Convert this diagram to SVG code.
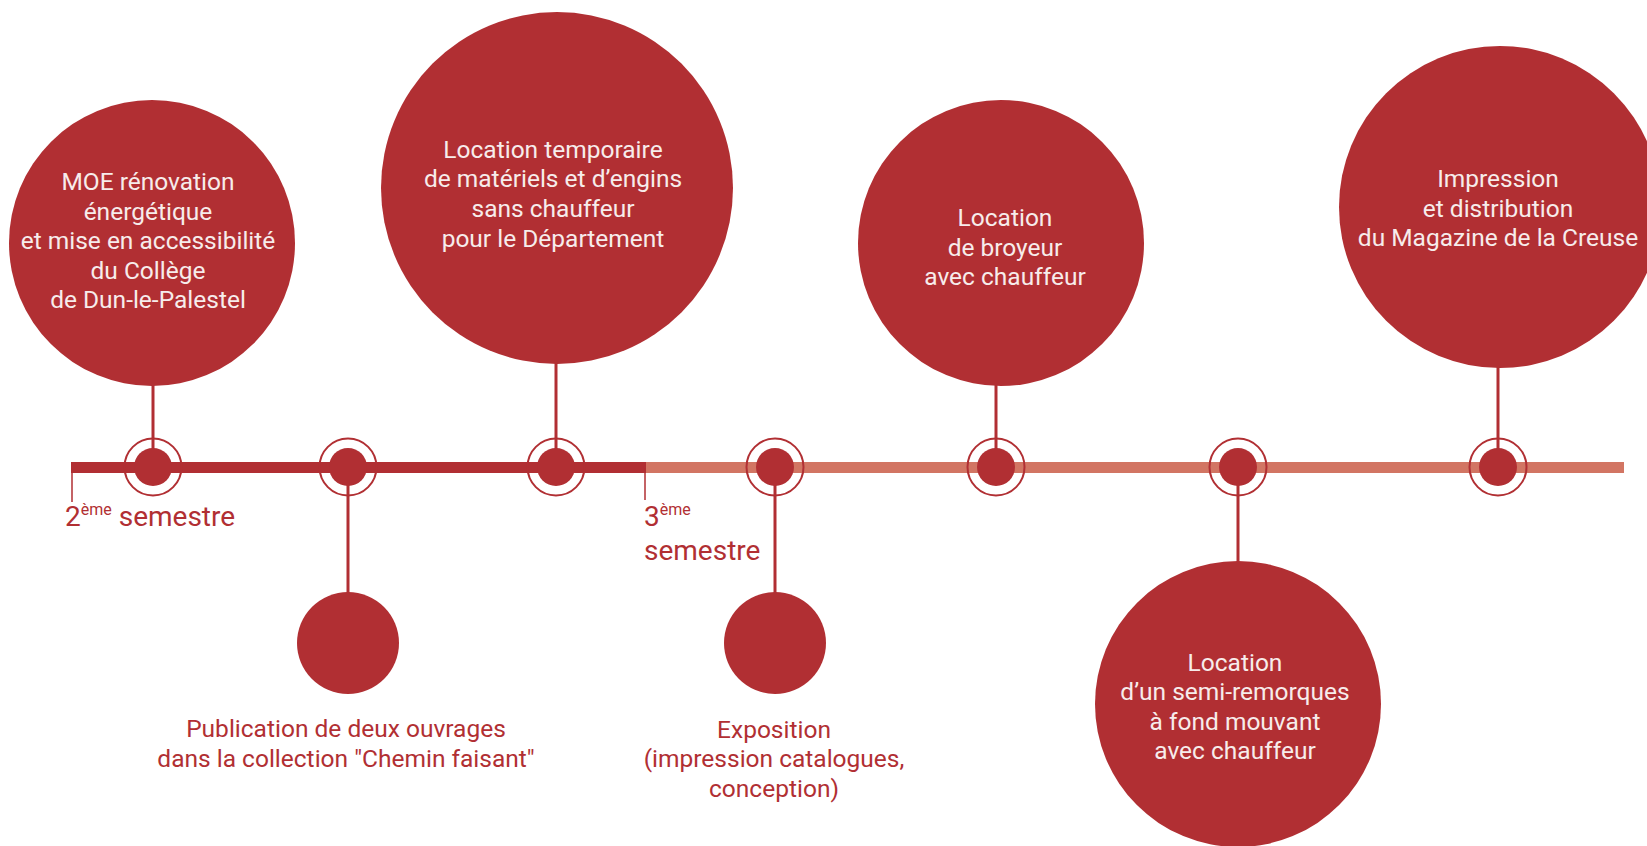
<svg xmlns="http://www.w3.org/2000/svg" width="1647" height="846" viewBox="0 0 1647 846">
<defs>
<style>
.blob{fill:#B12F33}
.in{font-family:Roboto,"Liberation Sans",sans-serif;font-size:24.5px;fill:#F7ECEB;text-anchor:middle}
.lab{font-family:Roboto,"Liberation Sans",sans-serif;font-size:24.5px;fill:#B12F33;text-anchor:middle}
.sem{font-family:Roboto,"Liberation Sans",sans-serif;font-size:28px;fill:#B12F33}
.sup{font-size:16px}
.conn{stroke:#B12F33;stroke-width:3;fill:none}
.ring{stroke:#B12F33;stroke-width:2;fill:none}
.dot{fill:#B12F33}
.tick{stroke:#B12F33;stroke-width:1.5}
</style>
</defs>
<rect width="1647" height="846" fill="#FFFFFF"/>
<g id="timeline">
<rect x="646" y="462" width="978" height="11" fill="#D27563"/>
<rect x="71" y="462" width="575" height="11" fill="#B12F33"/>
<line class="tick" x1="72" y1="468" x2="72" y2="502"/>
<line class="tick" x1="645" y1="468" x2="645" y2="500"/>
<text class="sem" x="65" y="526">2<tspan class="sup" dy="-11">ème</tspan><tspan dy="11"> semestre</tspan></text>
<text class="sem" x="644" y="526">3<tspan class="sup" dy="-11">ème</tspan></text>
<text class="sem" x="644" y="560">semestre</text>
</g>
<g id="connectors">
<line class="conn" x1="153" y1="380" x2="153" y2="467"/>
<line class="conn" x1="556" y1="358" x2="556" y2="467"/>
<line class="conn" x1="996" y1="380" x2="996" y2="467"/>
<line class="conn" x1="1498" y1="360" x2="1498" y2="467"/>
<line class="conn" x1="348" y1="467" x2="348" y2="600"/>
<line class="conn" x1="775" y1="467" x2="775" y2="600"/>
<line class="conn" x1="1238" y1="467" x2="1238" y2="570"/>
</g>
<g id="markers">
<circle class="ring" cx="153" cy="467" r="28.5"/><circle class="dot" cx="153" cy="467" r="19"/>
<circle class="ring" cx="348" cy="467" r="28.5"/><circle class="dot" cx="348" cy="467" r="19"/>
<circle class="ring" cx="556" cy="467" r="28.5"/><circle class="dot" cx="556" cy="467" r="19"/>
<circle class="ring" cx="775" cy="467" r="28.5"/><circle class="dot" cx="775" cy="467" r="19"/>
<circle class="ring" cx="996" cy="467" r="28.5"/><circle class="dot" cx="996" cy="467" r="19"/>
<circle class="ring" cx="1238" cy="467" r="28.5"/><circle class="dot" cx="1238" cy="467" r="19"/>
<circle class="ring" cx="1498" cy="467" r="28.5"/><circle class="dot" cx="1498" cy="467" r="19"/>
</g>
<g id="node1">
<circle class="blob" cx="152" cy="243" r="143"/>
<text class="in" x="148" y="190">MOE rénovation</text>
<text class="in" x="148" y="220">énergétique</text>
<text class="in" x="148" y="249">et mise en accessibilité</text>
<text class="in" x="148" y="279">du Collège</text>
<text class="in" x="148" y="308">de Dun-le-Palestel</text>
</g>
<g id="node2">
<circle class="blob" cx="348" cy="643" r="51"/>
<text class="lab" x="346" y="737">Publication de deux ouvrages</text>
<text class="lab" x="346" y="767">dans la collection "Chemin faisant"</text>
</g>
<g id="node3">
<circle class="blob" cx="557" cy="188" r="176"/>
<text class="in" x="553" y="158">Location temporaire</text>
<text class="in" x="553" y="187">de matériels et d’engins</text>
<text class="in" x="553" y="217">sans chauffeur</text>
<text class="in" x="553" y="247">pour le Département</text>
</g>
<g id="node4">
<circle class="blob" cx="775" cy="643" r="51"/>
<text class="lab" x="774" y="738">Exposition</text>
<text class="lab" x="774" y="767">(impression catalogues,</text>
<text class="lab" x="774" y="797">conception)</text>
</g>
<g id="node5">
<circle class="blob" cx="1001" cy="243" r="143"/>
<text class="in" x="1005" y="226">Location</text>
<text class="in" x="1005" y="256">de broyeur</text>
<text class="in" x="1005" y="285">avec chauffeur</text>
</g>
<g id="node6">
<circle class="blob" cx="1238" cy="704" r="143"/>
<text class="in" x="1235" y="671">Location</text>
<text class="in" x="1235" y="700">d’un semi-remorques</text>
<text class="in" x="1235" y="730">à fond mouvant</text>
<text class="in" x="1235" y="759">avec chauffeur</text>
</g>
<g id="node7">
<circle class="blob" cx="1500" cy="207" r="161"/>
<text class="in" x="1498" y="187">Impression</text>
<text class="in" x="1498" y="217">et distribution</text>
<text class="in" x="1498" y="246">du Magazine de la Creuse</text>
</g>
</svg>
